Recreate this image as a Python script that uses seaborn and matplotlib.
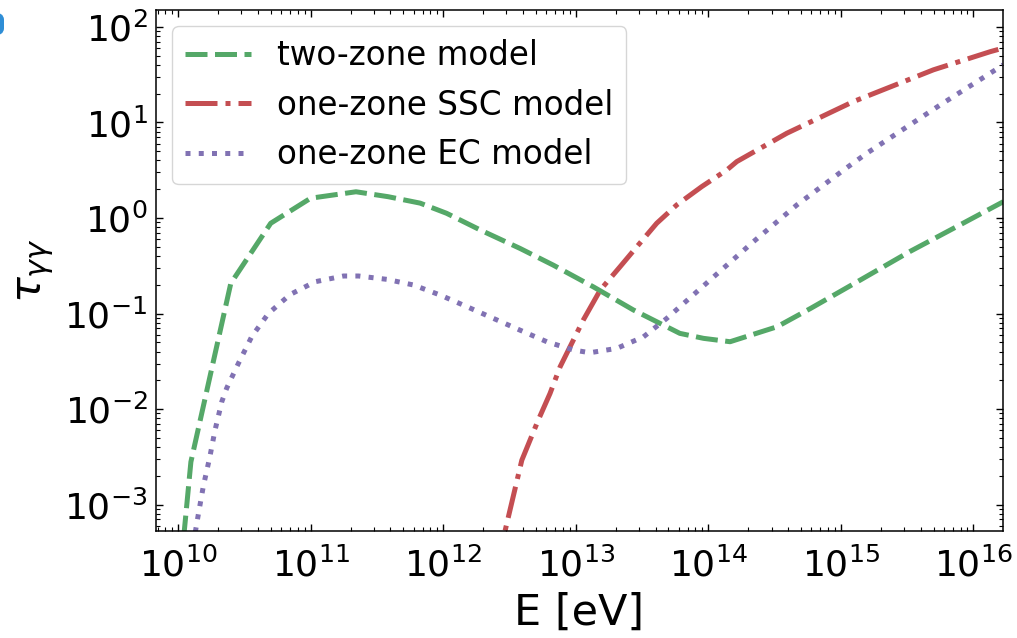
import matplotlib
matplotlib.use("Agg")
import matplotlib.pyplot as plt
import matplotlib.ticker as mticker
import pandas as pd
import seaborn as sns
from matplotlib.patches import FancyBboxPatch

# Photon energy [eV] and gamma-gamma optical depth for each emission model
E_two = [1.0e10, 1.25e10, 2.5e10, 5.0e10, 1.0e11, 2.2e11, 3.84e11, 6.7e11,
         1.06e12, 1.9e12, 3.8e12, 6.8e12, 1.36e13, 2.72e13, 6.1e13, 9.2e13,
         1.46e14, 3.3e14, 5.9e14, 1.4e15, 3.3e15, 7.9e15, 1.68e16]
tau_two = [1.1e-4, 2.8e-3, 0.207, 0.88, 1.61, 1.88, 1.67, 1.43,
           1.12, 0.75, 0.48, 0.32, 0.19, 0.109, 0.062, 0.055,
           0.0507, 0.0727, 0.113, 0.224, 0.444, 0.845, 1.48]

E_ssc = [2.5e12, 3.92e12, 5.22e12, 6.4e12, 7.62e12, 9.33e12, 1.14e13, 1.53e13,
         2.16e13, 2.89e13, 4.08e13, 5.78e13, 8.93e13, 1.38e14, 1.64e14, 3.91e14,
         1.24e15, 4.99e15, 1.34e16, 1.68e16]
tau_ssc = [2.1e-4, 2.92e-3, 7.7e-3, 0.0146, 0.0277, 0.0488, 0.0855, 0.176,
           0.309, 0.50, 0.88, 1.37, 2.13, 3.18, 3.89, 7.7,
           16.5, 35.5, 55.0, 60.0]

E_ec = [1.2e10, 1.42e10, 1.55e10, 1.74e10, 1.9e10, 2.14e10, 2.33e10, 2.85e10,
        3.6e10, 4.8e10, 7.0e10, 1.08e11, 1.77e11, 2.3e11, 3.75e11, 5.96e11,
        9.5e11, 1.51e12, 2.39e12, 3.8e12, 6.05e12, 9.6e12, 1.28e13, 2.04e13,
        3.24e13, 4.86e13, 1.03e14, 2.19e14, 4.66e14, 1.05e15, 1.57e15, 5.6e15,
        1.68e16]
tau_ec = [2.0e-4, 7.8e-4, 1.55e-3, 3.2e-3, 6.0e-3, 0.012, 0.0166, 0.030,
          0.0575, 0.10, 0.158, 0.215, 0.247, 0.247, 0.228, 0.199,
          0.156, 0.118, 0.089, 0.067, 0.0507, 0.0415, 0.0389, 0.0432,
          0.057, 0.089, 0.224, 0.565, 1.37, 3.18, 4.76, 15.2,
          40.0]

labels = ["two-zone model", "one-zone SSC model", "one-zone EC model"]

# major tick positions (decades)
x_ticks = [1e10, 1e11, 1e12, 1e13, 1e14, 1e15, 1e16]
y_ticks = [1e-3, 1e-2, 1e-1, 1e0, 1e1, 1e2]

sns.set_theme(style="white")
plt.rcParams["font.family"] = ["DejaVu Sans"]
plt.rcParams["mathtext.fontset"] = "dejavusans"
for key in ["text.color", "axes.labelcolor", "xtick.color", "ytick.color",
            "axes.edgecolor"]:
    plt.rcParams[key] = "black"

deep = sns.color_palette("deep")
green, red, purple = deep[2], deep[3], deep[4]

fig = plt.figure(figsize=(10.17, 6.38), dpi=100)
ax = fig.add_axes([0.1534, 0.1677, 0.8328, 0.8166])
ax.set_xscale("log")
ax.set_yscale("log")

lw = 3.6
series = [
    (E_two, tau_two, labels[0], green, (0, (4.4, 1.5))),
    (E_ssc, tau_ssc, labels[1], red, (0, (6.4, 1.6, 1.0, 1.6))),
    (E_ec, tau_ec, labels[2], purple, (0, (1.0, 1.65))),
]
for E, tau, lab, col, ls in series:
    df = pd.DataFrame({"E": E, "tau": tau})
    sns.lineplot(data=df, x="E", y="tau", ax=ax, color=col, lw=lw,
                 linestyle=ls, label=lab, estimator=None, sort=False)

ax.set_xlim(6.82e9, 1.67e16)
ax.set_ylim(5.3e-4, 150)
ax.xaxis.set_major_locator(mticker.FixedLocator(x_ticks))
ax.yaxis.set_major_locator(mticker.FixedLocator(y_ticks))
ax.xaxis.set_major_formatter(mticker.LogFormatterSciNotation())
ax.yaxis.set_major_formatter(mticker.LogFormatterSciNotation())
ax.xaxis.set_minor_formatter(mticker.NullFormatter())
ax.yaxis.set_minor_formatter(mticker.NullFormatter())

for side in ["left", "right", "top", "bottom"]:
    ax.spines[side].set_color("black")
    ax.spines[side].set_linewidth(1.1)

ax.tick_params(which="both", direction="in", top=True, right=True,
               bottom=True, left=True, color="black", labelcolor="black")
ax.tick_params(which="major", length=5, width=1.0, labelsize=26)
ax.tick_params(which="minor", length=3, width=0.8)
ax.tick_params(axis="y", which="major", pad=6)
ax.tick_params(axis="x", which="major", pad=12)

ax.set_xlabel("E [eV]", fontsize=31, labelpad=6)
ax.set_ylabel(r"$\tau_{\gamma\gamma}$", fontsize=31, labelpad=6)

leg = ax.legend(loc="upper left", fontsize=23.5, frameon=True, fancybox=True,
                framealpha=0.8, edgecolor="0.8", handlelength=2.0)

# small badge at the upper-left corner of the figure
badge = FancyBboxPatch((-20 / 1017, (638 - 36) / 638), 24 / 1017, 24 / 638,
                       boxstyle="round,pad=0,rounding_size=0.012",
                       transform=fig.transFigure, facecolor="#2F8ED6",
                       edgecolor="none", clip_on=False)
fig.patches.append(badge)

fig.savefig("out.png", dpi=100)
